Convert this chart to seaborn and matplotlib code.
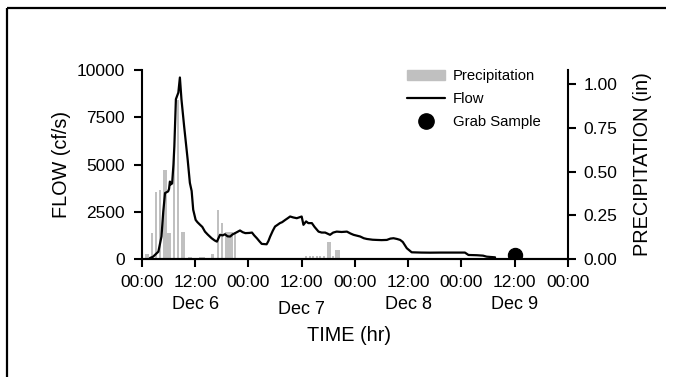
import numpy as np
import pandas as pd
import matplotlib
matplotlib.use('Agg')
import matplotlib.pyplot as plt
import seaborn as sns
from matplotlib.lines import Line2D
from matplotlib.patches import Patch

# hours since Dec 6 00:00
flow_hours = [1.8, 2.5, 3.3, 3.7, 4.4, 4.8, 5.2, 5.9, 6.1, 6.3, 6.5, 6.8, 7.1, 7.3, 7.65, 8.2, 8.55,
              8.9, 9.5, 10.3, 10.8, 11.2, 11.55, 12.1, 12.5, 13.1, 13.6, 14.2, 14.8, 15.7, 16.4, 16.9,
              17.6, 18.2, 18.7, 19.3, 19.9, 20.4, 21.0, 22.1, 22.7, 23.3, 24.2, 24.8, 25.3, 25.9, 26.5,
              27.0, 28.1, 28.5, 28.9, 29.5, 30.0, 30.5, 31.1, 31.6, 32.3, 32.8, 33.4, 34.1, 34.9, 35.4,
              36.0, 36.4, 37.0, 37.5, 38.3, 38.9, 39.8, 40.5, 41.3, 42.4, 43.1, 43.9, 45.0, 46.2, 47.0,
              47.7, 49.2, 50.0, 50.7, 52.0, 52.9, 54.0, 55.2, 56.0, 56.7, 57.5, 58.2, 58.8, 59.7, 60.8,
              63.0, 65.0, 67.2, 70.0, 72.8, 73.6, 75.5, 76.9, 77.7, 79.6]
flow_cfs = [50, 120, 300, 390, 1190, 2500, 3490, 3580, 3700, 4100, 3950, 4000, 5000, 5970, 8460, 8810, 9610,
            8460, 7040, 5270, 4030, 3600, 2610, 2070, 1950, 1810, 1700, 1450, 1300, 1100, 980, 920,
            1280, 1250, 1310, 1200, 1190, 1300, 1370, 1510, 1420, 1370, 1380, 1400, 1250, 1100, 930,
            800, 780, 950, 1190, 1500, 1720, 1800, 1900, 1950, 2070, 2150, 2250, 2200, 2160, 2200,
            2250, 1810, 1990, 1900, 1900, 1700, 1450, 1400, 1400, 1280, 1400, 1450, 1430, 1450, 1350,
            1280, 1190, 1100, 1060, 1020, 1010, 1000, 1010, 1080, 1100, 1060, 1010, 900, 570, 355,
            340, 335, 340, 340, 340, 213, 200, 177, 124, 88]

precip_hours = [0.9, 1.4, 2.3, 3.2, 4.0, 4.9, 5.35, 5.8, 6.25, 7.15, 8.05, 9.1, 9.5, 10.6, 11.1,
                13.0, 13.5, 14.0, 15.9, 17.1, 18.0, 18.9, 19.3, 19.7, 20.2, 21.0,
                37.0, 37.9, 38.5, 39.4, 40.2, 41.0, 42.0, 42.4, 43.0, 43.8, 44.3]
precip_in = [0.03, 0.03, 0.147, 0.385, 0.394, 0.51, 0.51, 0.147, 0.147, 0.61, 0.91, 0.156, 0.156, 0.01, 0.01,
             0.01, 0.01, 0.01, 0.03, 0.28, 0.204, 0.156, 0.156, 0.156, 0.156, 0.156,
             0.02, 0.02, 0.017, 0.017, 0.017, 0.017, 0.1, 0.1, 0.017, 0.05, 0.05]

grab_hours = [84]
grab_cfs = [200]

tick_hours = [0, 12, 24, 36, 48, 60, 72, 84, 96]
tick_labels = ['00:00', '12:00', '00:00', '12:00', '00:00', '12:00', '00:00', '12:00', '00:00']
day_hours = [12, 36, 60, 84]
day_labels = ['Dec 6', 'Dec 7', 'Dec 8', 'Dec 9']

flow = pd.DataFrame({'hours': flow_hours, 'flow': flow_cfs})
grab = pd.DataFrame({'hours': grab_hours, 'flow': grab_cfs})

sns.set_style('ticks')
plt.rcParams['font.family'] = ['Liberation Sans', 'DejaVu Sans']
for k in ['text.color', 'axes.labelcolor', 'xtick.color', 'ytick.color', 'axes.edgecolor']:
    plt.rcParams[k] = 'black'

fig = plt.figure(figsize=(6.76, 3.77), dpi=100)
ax = fig.add_axes([0.210, 0.313, 0.630, 0.501])
ax2 = ax.twinx()

ax2.bar(precip_hours, precip_in, width=0.5, color='#c0c0c0', align='center', linewidth=0)
sns.lineplot(x='hours', y='flow', data=flow, ax=ax, color='black', linewidth=1.6)
sns.scatterplot(x='hours', y='flow', data=grab, ax=ax, color='black', s=105, edgecolor='black', zorder=5)

ax.set_zorder(ax2.get_zorder() + 1)
ax.patch.set_visible(False)

ax.set_xlim(0, 96)
ax.set_ylim(0, 10000)
ax2.set_ylim(0, 1.08)
ax.set_yticks([0, 2500, 5000, 7500, 10000])
ax2.set_yticks([0, 0.25, 0.5, 0.75, 1.0])
ax2.set_yticklabels(['0.00', '0.25', '0.50', '0.75', '1.00'])
ax.set_xticks(tick_hours)
ax.set_xticklabels(tick_labels)

for a in (ax, ax2):
    a.spines['top'].set_visible(False)
    for s in a.spines.values():
        s.set_linewidth(1.5)
    a.tick_params(width=1.5, length=5.5, labelsize=12.5)
ax.spines['right'].set_visible(False)
ax2.spines['left'].set_visible(False)
ax.tick_params(axis='x', pad=6)
ax.tick_params(axis='y', pad=7)
ax2.tick_params(axis='y', pad=6)

tr = matplotlib.transforms.blended_transform_factory(ax.transData, ax.transAxes)
for h, lab in zip(day_hours, day_labels):
    dy = -0.267 if lab == 'Dec 7' else -0.243
    ax.text(h, dy, lab, transform=tr, ha='center', va='center', fontsize=13)

ax.set_xlabel('TIME (hr)', fontsize=14.3)
ax.xaxis.set_label_coords(0.486, -0.355)
ax.set_ylabel('FLOW (cf/s)', fontsize=14.3, labelpad=4)
ax2.set_ylabel('PRECIPITATION (in)', fontsize=14.3, labelpad=11)

handles = [Patch(color='#c0c0c0'),
           Line2D([], [], color='black', linewidth=1.6),
           Line2D([], [], color='black', marker='o', markersize=11, linestyle='none')]
ax.legend(handles, ['Precipitation', 'Flow', 'Grab Sample'], loc='upper left',
          bbox_to_anchor=(0.622, 1.005), frameon=False, borderpad=0, borderaxespad=0,
          handlelength=2.55, handletextpad=0.54, labelspacing=0.6, fontsize=10.7)

# frame around the figure (left and top edges visible)
fig.add_artist(Line2D([7 / 676, 7 / 676], [0, 1 - 8 / 377], transform=fig.transFigure,
                      color='black', linewidth=1.6, solid_capstyle='butt'))
fig.add_artist(Line2D([7 / 676, 0.985], [1 - 8 / 377, 1 - 8 / 377], transform=fig.transFigure,
                      color='black', linewidth=1.6, solid_capstyle='butt'))

fig.savefig('out.png', dpi=100, facecolor='white')
